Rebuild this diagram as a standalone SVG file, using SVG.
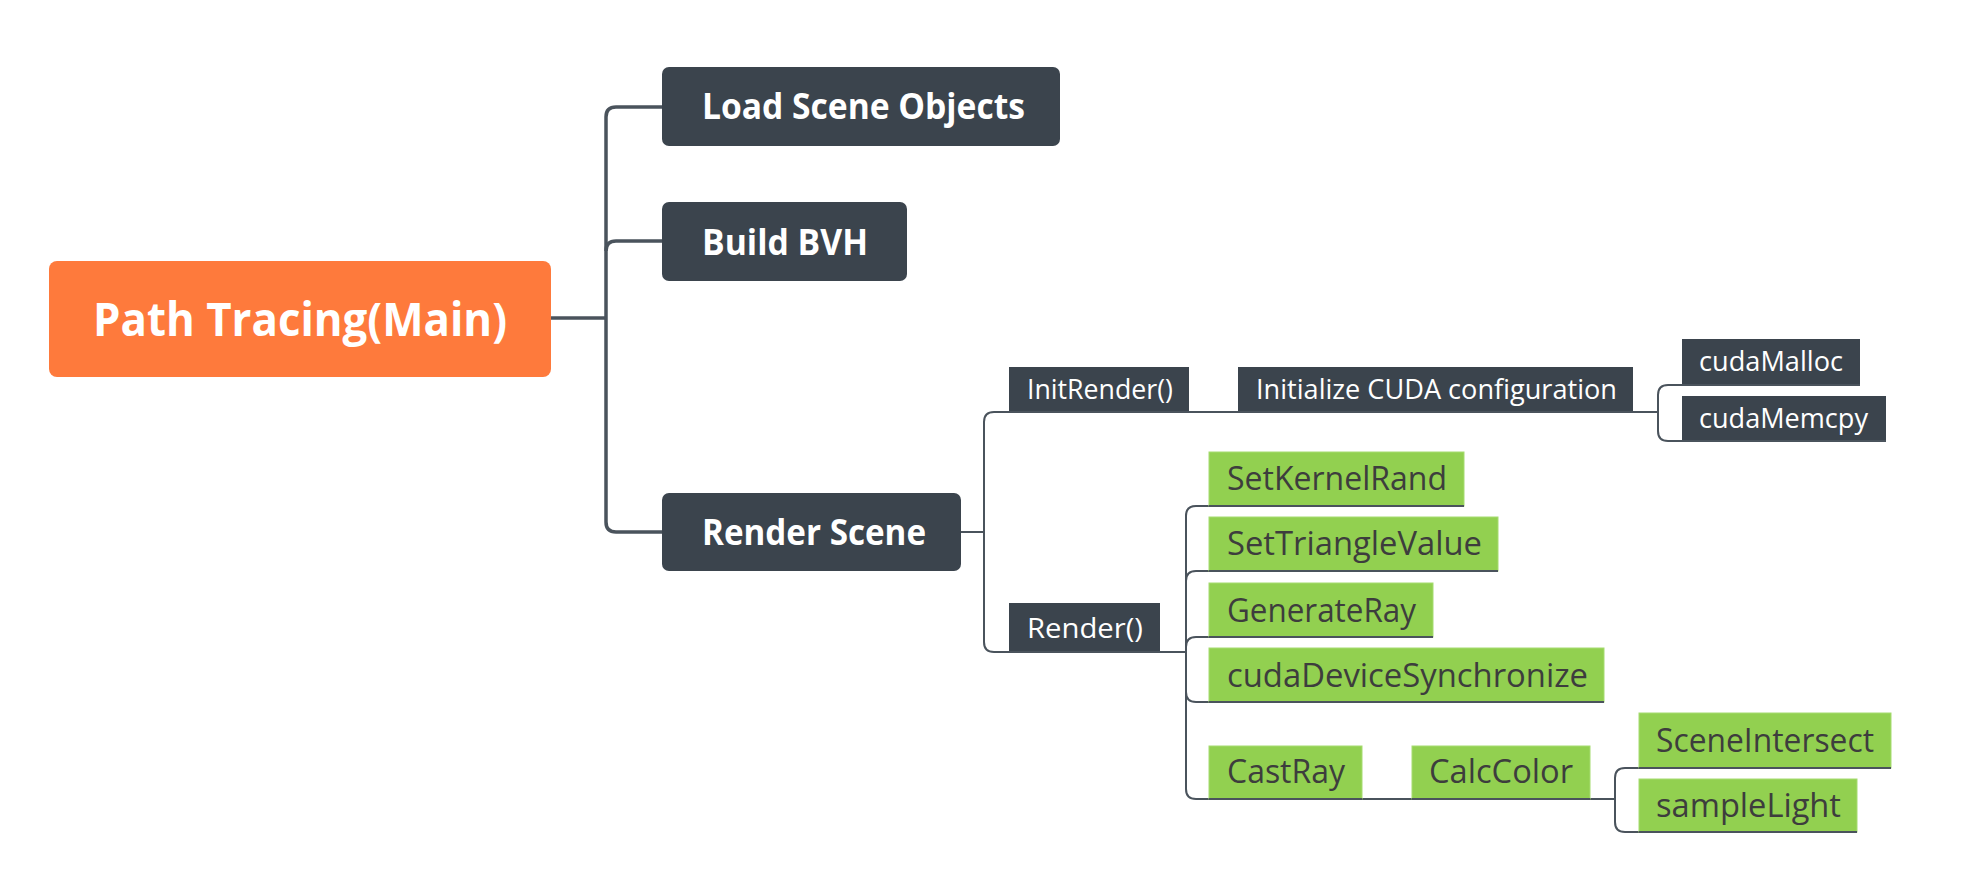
<svg xmlns="http://www.w3.org/2000/svg" width="1986" height="890" viewBox="0 0 1986 890">
<style>
.bg{fill:#ffffff}
.main{fill:#fe7a3c}
.l1{fill:#3b444d}
.l2{fill:#3b444d}
.gr{fill:#92d050;stroke:#a6dc70;stroke-width:1}
.t{font-family:"Open Sans","Noto Sans","Liberation Sans",sans-serif}
.tb{font-weight:bold;fill:#ffffff}
.tw{fill:#ffffff}
.td{fill:#3d3d3d}
.c1{fill:none;stroke:#4a535c;stroke-width:3.5}
.c2{fill:none;stroke:#4a535c;stroke-width:2}
</style>
<rect class="bg" x="0" y="0" width="1986" height="890"/>

<g id="connectors">
  <path class="c1" d="M551,318 H606"/>
  <path class="c1" d="M662,107 H616 Q606,107 606,117 V522 Q606,532 616,532 H662"/>
  <path class="c1" d="M662,241 H616 Q606,241 606,251"/>
  <path class="c2" d="M961,532 H984"/>
  <path class="c2" d="M1658,412 H994 Q984,412 984,422 V642 Q984,652 994,652 H1186"/>
  <path class="c2" d="M1886,441 H1668 Q1658,441 1658,431 V395 Q1658,385 1668,385 H1860"/>
  <path class="c2" d="M1464,506 H1196 Q1186,506 1186,516 V789 Q1186,799 1196,799 H1615"/>
  <path class="c2" d="M1498,571 H1196 Q1186,571 1186,581"/>
  <path class="c2" d="M1433,637 H1196 Q1186,637 1186,647"/>
  <path class="c2" d="M1604,702 H1196 Q1186,702 1186,692"/>
  <path class="c2" d="M1857,832 H1625 Q1615,832 1615,822 V778 Q1615,768 1625,768 H1891"/>
</g>

<g id="node-main">
  <rect class="main" x="49" y="261" width="502" height="116" rx="8"/>
  <text class="t tb" x="300" y="336" font-size="46" text-anchor="middle" textLength="414" lengthAdjust="spacingAndGlyphs">Path Tracing(Main)</text>
</g>
<g id="node-load">
  <rect class="l1" x="662" y="67" width="398" height="79" rx="7"/>
  <text class="t tb" x="702" y="119" font-size="36" textLength="323" lengthAdjust="spacingAndGlyphs">Load Scene Objects</text>
</g>
<g id="node-bvh">
  <rect class="l1" x="662" y="202" width="245" height="79" rx="7"/>
  <text class="t tb" x="702" y="255" font-size="36" textLength="166" lengthAdjust="spacingAndGlyphs">Build BVH</text>
</g>
<g id="node-render-scene">
  <rect class="l1" x="662" y="493" width="299" height="78" rx="7"/>
  <text class="t tb" x="702" y="545" font-size="36" textLength="224" lengthAdjust="spacingAndGlyphs">Render Scene</text>
</g>

<g id="node-initrender">
  <rect class="l2" x="1009" y="367" width="180" height="45"/>
  <text class="t tw" x="1027" y="399" font-size="27" textLength="146" lengthAdjust="spacingAndGlyphs">InitRender()</text>
</g>
<g id="node-initcuda">
  <rect class="l2" x="1238" y="367" width="395" height="45"/>
  <text class="t tw" x="1256" y="399" font-size="27" textLength="361" lengthAdjust="spacingAndGlyphs">Initialize CUDA configuration</text>
</g>
<g id="node-cudamalloc">
  <rect class="l2" x="1682" y="339" width="178" height="46"/>
  <text class="t tw" x="1699" y="371" font-size="27" textLength="144" lengthAdjust="spacingAndGlyphs">cudaMalloc</text>
</g>
<g id="node-cudamemcpy">
  <rect class="l2" x="1682" y="396" width="204" height="45"/>
  <text class="t tw" x="1699" y="428" font-size="27" textLength="169" lengthAdjust="spacingAndGlyphs">cudaMemcpy</text>
</g>
<g id="node-render">
  <rect class="l2" x="1009" y="603" width="151" height="49"/>
  <text class="t tw" x="1027" y="638" font-size="27" textLength="116" lengthAdjust="spacingAndGlyphs">Render()</text>
</g>

<g id="node-setkernelrand">
  <rect class="gr" x="1209" y="452" width="255" height="54"/>
  <text class="t td" x="1227" y="490" font-size="32" textLength="220" lengthAdjust="spacingAndGlyphs">SetKernelRand</text>
</g>
<g id="node-settrianglevalue">
  <rect class="gr" x="1209" y="517" width="289" height="54"/>
  <text class="t td" x="1227" y="555" font-size="32" textLength="255" lengthAdjust="spacingAndGlyphs">SetTriangleValue</text>
</g>
<g id="node-generateray">
  <rect class="gr" x="1209" y="583" width="224" height="54"/>
  <text class="t td" x="1227" y="622" font-size="32" textLength="189" lengthAdjust="spacingAndGlyphs">GenerateRay</text>
</g>
<g id="node-cudadevicesync">
  <rect class="gr" x="1209" y="648" width="395" height="54"/>
  <text class="t td" x="1227" y="687" font-size="32" textLength="361" lengthAdjust="spacingAndGlyphs">cudaDeviceSynchronize</text>
</g>
<g id="node-castray">
  <rect class="gr" x="1209" y="746" width="153" height="53"/>
  <text class="t td" x="1227" y="783" font-size="32" textLength="118" lengthAdjust="spacingAndGlyphs">CastRay</text>
</g>
<g id="node-calccolor">
  <rect class="gr" x="1412" y="746" width="178" height="53"/>
  <text class="t td" x="1429" y="783" font-size="32" textLength="144" lengthAdjust="spacingAndGlyphs">CalcColor</text>
</g>
<g id="node-sceneintersect">
  <rect class="gr" x="1639" y="713" width="252" height="55"/>
  <text class="t td" x="1656" y="752" font-size="32" textLength="218" lengthAdjust="spacingAndGlyphs">SceneIntersect</text>
</g>
<g id="node-samplelight">
  <rect class="gr" x="1639" y="779" width="218" height="53"/>
  <text class="t td" x="1656" y="817" font-size="32" textLength="185" lengthAdjust="spacingAndGlyphs">sampleLight</text>
</g>

<g id="underlines">
  <path class="c2" d="M1009,412 H1189 M1238,412 H1633 M1682,385 H1860 M1682,441 H1886 M1009,652 H1160"/>
  <path class="c2" d="M1209,506 H1464 M1209,571 H1498 M1209,637 H1433 M1209,702 H1604 M1209,799 H1362 M1412,799 H1590 M1639,768 H1891 M1639,832 H1857"/>
</g>
</svg>
